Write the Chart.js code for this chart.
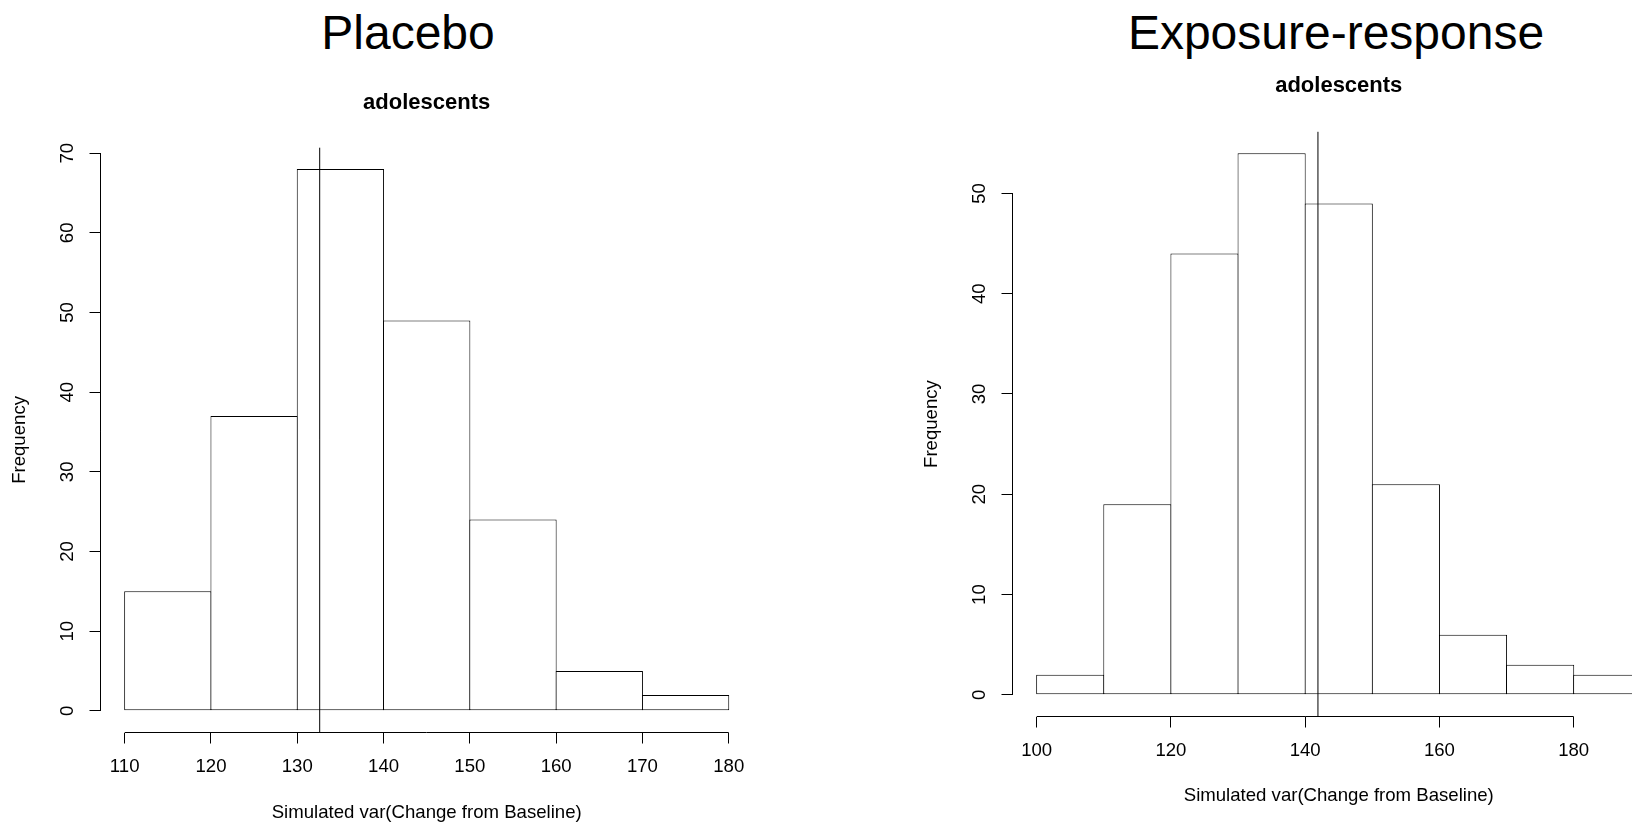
<!DOCTYPE html>
<html>
<head>
<meta charset="utf-8">
<title>Placebo vs Exposure-response</title>
<script src="https://cdn.jsdelivr.net/npm/chart.js@4.4.1/dist/chart.umd.min.js"></script>
<style>
  html, body { margin: 0; padding: 0; background: #fff; overflow: hidden; width: 1632px; height: 822px; }
  .panel { position: absolute; top: 0; }
  .main-title {
    position: absolute; top: 8.9px;
    font-family: "Liberation Sans", Arial, sans-serif; font-size: 48px; line-height: 48px;
    white-space: nowrap; transform: translateX(-50%); color: #000;
  }
</style>
</head>
<body>
<div class="main-title" style="left:408px">Placebo</div>
<div class="main-title" style="left:1336px">Exposure-response</div>
<div class="panel" style="left:0px"><canvas id="placebo" width="816" height="826"></canvas></div>
<div class="panel" style="left:912px"><canvas id="er" width="760" height="826"></canvas></div>
<script>
const subtitle = "adolescents";
const xLabel = "Simulated var(Change from Baseline)";
const yLabel = "Frequency";

// left panel
const placeboBreaks = [110, 120, 130, 140, 150, 160, 170, 180];
const placeboCounts = [15, 37, 68, 49, 24, 5, 2];
const placeboMean = 132.6;
const placeboXTicks = [110, 120, 130, 140, 150, 160, 170, 180];
const placeboYTicks = [0, 10, 20, 30, 40, 50, 60, 70];

// right panel
const erBreaks = [100, 110, 120, 130, 140, 150, 160, 170, 180, 190];
const erCounts = [2, 19, 44, 54, 49, 21, 6, 3, 2];
const erMean = 141.9;
const erXTicks = [100, 120, 140, 160, 180];
const erYTicks = [0, 10, 20, 30, 40, 50];

const FONT = "'Liberation Sans', Arial, sans-serif";

// R draws the axis line only between the first and last tick
const axisLines = {
    id: 'axisLines',
    afterDraw(chart) {
        const {ctx, chartArea, scales} = chart;
        const xt = scales.x.ticks, yt = scales.y.ticks;
        ctx.save();
        ctx.strokeStyle = '#000';
        ctx.lineWidth = 1;
        ctx.beginPath();
        ctx.moveTo(scales.x.getPixelForValue(xt[0].value), chartArea.bottom);
        ctx.lineTo(scales.x.getPixelForValue(xt[xt.length - 1].value), chartArea.bottom);
        ctx.moveTo(chartArea.left, scales.y.getPixelForValue(yt[0].value));
        ctx.lineTo(chartArea.left, scales.y.getPixelForValue(yt[yt.length - 1].value));
        ctx.stroke();
        ctx.restore();
    }
};

function histogram(id, breaks, counts, mean, xTicks, yTicks, lay) {
    const lo = breaks[0], hi = breaks[breaks.length - 1];
    const top = Math.max(...counts);
    const xMin = lo - 0.04 * (hi - lo), xMax = hi + 0.04 * (hi - lo);
    const yMin = -0.04 * top, yMax = top * 1.04;

    const bars = counts.map((c, i) => ({ x: (breaks[i] + breaks[i + 1]) / 2, y: c }));

    return new Chart(document.getElementById(id), {
        type: 'bar',
        data: {
            datasets: [{
                type: 'line',
                order: 0,
                data: [{ x: mean, y: yMin }, { x: mean, y: yMax }],
                borderColor: '#000',
                borderWidth: 1,
                pointRadius: 0,
                fill: false
            }, {
                type: 'bar',
                order: 1,
                data: bars,
                backgroundColor: '#fff',
                borderColor: '#000',
                borderWidth: 1,
                borderSkipped: false,
                inflateAmount: 0,
                barPercentage: lay.barPct,
                categoryPercentage: 1
            }]
        },
        options: {
            responsive: false,
            devicePixelRatio: 1,
            animation: false,
            events: [],
            layout: { padding: { left: 0.5, right: lay.padRight, top: 0, bottom: 0 } },
            plugins: {
                legend: { display: false },
                tooltip: { enabled: false },
                title: {
                    display: true,
                    text: subtitle,
                    fullSize: false,
                    color: '#000',
                    font: { family: FONT, size: 22, weight: 'bold', lineHeight: 1.2 },
                    padding: { top: lay.subTop, bottom: lay.subBottom }
                }
            },
            scales: {
                x: {
                    type: 'linear',
                    position: 'bottom',
                    min: xMin,
                    max: xMax,
                    offset: false,
                    afterBuildTicks: s => { s.ticks = xTicks.map(v => ({ value: v })); },
                    afterFit: s => {
                        s.height = lay.xHeight;
                        s.paddingLeft = 0; s.paddingRight = 0; s.paddingTop = 0; s.paddingBottom = 0;
                    },
                    grid: { offset: false, drawOnChartArea: false, drawTicks: true, tickLength: 11, color: '#000', lineWidth: 1 },
                    border: { display: false },
                    ticks: {
                        autoSkip: false, maxRotation: 0, padding: 12.2, color: '#000',
                        font: { family: FONT, size: 18.6, lineHeight: 1.2 },
                        callback: v => String(v)
                    },
                    title: {
                        display: true, text: xLabel, color: '#000',
                        font: { family: FONT, size: 18.6, lineHeight: 1.2 },
                        padding: { top: 0, bottom: lay.xTitlePad }
                    }
                },
                y: {
                    type: 'linear',
                    position: 'left',
                    min: yMin,
                    max: yMax,
                    afterBuildTicks: s => { s.ticks = yTicks.map(v => ({ value: v })); },
                    afterFit: s => {
                        s.width = 100;
                        s.paddingLeft = 0; s.paddingRight = 0; s.paddingTop = 0; s.paddingBottom = 0;
                    },
                    grid: { drawOnChartArea: false, drawTicks: true, tickLength: 11, color: '#000', lineWidth: 1 },
                    border: { display: false },
                    ticks: {
                        autoSkip: false, minRotation: 90, maxRotation: 90, crossAlign: 'center',
                        padding: 11.65, color: '#000',
                        font: { family: FONT, size: 18.6, lineHeight: 1.2 },
                        callback: v => String(v)
                    },
                    title: {
                        display: true, text: yLabel, color: '#000',
                        font: { family: FONT, size: 18.6, lineHeight: 1.2 },
                        padding: { top: 8.4, bottom: 0 }
                    }
                }
            }
        },
        plugins: [axisLines]
    });
}

histogram('placebo', placeboBreaks, placeboCounts, placeboMean, placeboXTicks, placeboYTicks, {
    padRight: 63.1, subTop: 89.3, subBottom: 31.7, xHeight: 93.5, xTitlePad: 1.9, barPct: 1.0116
});
histogram('er', erBreaks, erCounts, erMean, erXTicks, erYTicks, {
    padRight: 7, subTop: 72.8, subBottom: 32.4, xHeight: 109.5, xTitlePad: 18.6, barPct: 1.015
});
</script>
</body>
</html>
